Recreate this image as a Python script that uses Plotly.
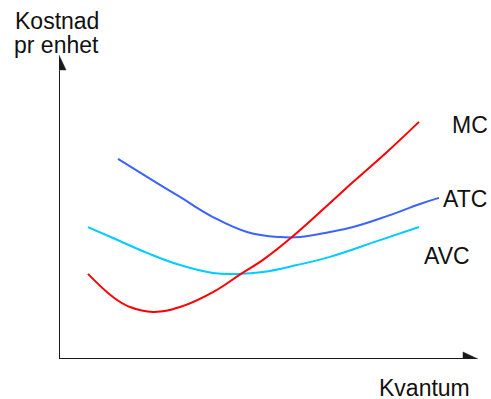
import plotly.graph_objects as go

# Quantity (x) and cost per unit (y)
mc_q = [7.25, 13.5, 17.75, 23.5, 30.25, 38.5, 45.5, 51, 58.25, 67.75, 73.5, 82, 90]
mc_c = [28.0, 20.4, 17.1, 15.5, 17.1, 22.0, 28.0, 32.6, 40.1, 51.3, 58.2, 68.1, 78.0]

atc_q = [14.75, 22, 30.25, 38.5, 47, 55.25, 60.25, 67.75, 73.5, 82, 90.25, 95]
atc_c = [65.8, 59.9, 53.3, 46.7, 41.8, 40.1, 40.1, 41.8, 43.4, 47.0, 51.0, 53.0]

avc_q = [7.25, 13.5, 22, 30.25, 38.5, 44.5, 51, 59.5, 67.75, 80.25, 90]
avc_c = [43.4, 39.8, 34.9, 30.9, 28.3, 28.0, 28.6, 30.9, 33.6, 39.1, 43.4]

curve_names = ["MC", "ATC", "AVC"]
x_label = "Kvantum"
y_label_lines = ["Kostnad", "pr enhet"]

FONT = "Liberation Sans, Arial, sans-serif"

fig = go.Figure()
fig.add_trace(go.Scatter(x=avc_q, y=avc_c, mode="lines", line=dict(color="#00CCFF", width=2, shape="spline", smoothing=1.2), name="AVC"))
fig.add_trace(go.Scatter(x=atc_q, y=atc_c, mode="lines", line=dict(color="#3D63FF", width=2, shape="spline", smoothing=1.2), name="ATC"))
fig.add_trace(go.Scatter(x=mc_q, y=mc_c, mode="lines", line=dict(color="#FF0000", width=2, shape="spline", smoothing=1.2), name="MC"))

# Axes with arrowheads
ax_col = "#1a1a1a"
shapes = [
    dict(type="line", xref="x", yref="y", x0=-0.25, y0=0, x1=101.5, y1=0, line=dict(color=ax_col, width=2)),
    dict(type="line", xref="x", yref="y", x0=0, y0=0, x1=0, y1=95, line=dict(color=ax_col, width=2)),
    dict(type="path", xref="x", yref="y", path="M 101,2.3 L 104.75,0 L 101,-2.3 Z", fillcolor=ax_col, line=dict(color=ax_col, width=0.5)),
    dict(type="path", xref="x", yref="y", path="M -1.75,95.1 L 0,100 L 1.75,95.1 Z", fillcolor=ax_col, line=dict(color=ax_col, width=0.5)),
]

# label positions in paper fractions
anns = [
    dict(x=0.9786, y=0.7697, text=curve_names[0]),
    dict(x=0.9667, y=0.5247, text=curve_names[1]),
    dict(x=0.9238, y=0.3372, text=curve_names[2]),
    dict(x=0.870, y=-0.0960, text=x_label),
    dict(x=-0.0048, y=1.1118, text=y_label_lines[0]),
    dict(x=-0.0048, y=1.0329, text=y_label_lines[1]),
]
annotations = []
for a in anns:
    a.update(xref="paper", yref="paper", showarrow=False, xanchor="center", yanchor="middle",
             font=dict(family=FONT, size=23, color="#111111"))
    annotations.append(a)

fig.update_layout(
    width=491, height=399,
    margin=dict(l=59, r=12, t=55, b=40, pad=0),
    paper_bgcolor="white", plot_bgcolor="white",
    showlegend=False,
    hovermode=False,
    xaxis=dict(range=[0, 105], visible=False, fixedrange=True),
    yaxis=dict(range=[0, 100], visible=False, fixedrange=True),
    shapes=shapes,
    annotations=annotations,
)

fig.write_html("out.html", config={"displayModeBar": False, "staticPlot": True},
               post_script="document.body.style.margin='0';document.body.style.overflow='hidden';")
